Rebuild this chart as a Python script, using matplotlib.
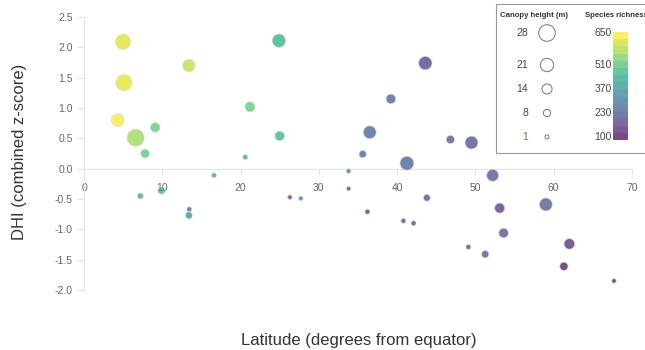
import numpy as np
import matplotlib
matplotlib.use("Agg")
import matplotlib.pyplot as plt
from matplotlib.colors import Normalize
from matplotlib.patches import Rectangle

plt.rcParams['font.family'] = ['Liberation Sans', 'DejaVu Sans']

# latitude (degrees from equator), DHI, canopy height (m), species richness
latitude = [5.0, 5.1, 4.3, 6.6, 9.1, 7.8, 13.4, 24.9, 21.2, 25.0,
            20.6, 16.6, 7.2, 9.9, 33.8, 33.8, 26.3, 27.7, 35.6, 36.5,
            13.45, 13.4, 36.2, 43.6, 39.2, 41.25, 46.8, 49.5, 43.8, 40.8,
            42.1, 52.2, 53.1, 59.0, 53.6, 49.1, 51.25, 62.0, 61.3, 67.7]
dhi = [2.09, 1.42, 0.80, 0.51, 0.68, 0.25, 1.70, 2.11, 1.02, 0.54,
       0.19, -0.11, -0.45, -0.36, -0.04, -0.33, -0.47, -0.49, 0.24, 0.60,
       -0.67, -0.77, -0.71, 1.74, 1.15, 0.09, 0.48, 0.43, -0.48, -0.86,
       -0.90, -0.11, -0.65, -0.59, -1.06, -1.29, -1.41, -1.24, -1.61, -1.85]
canopy = [25, 27, 20, 29, 13, 11, 19, 21, 14, 13,
          3, 3, 5, 8, 2, 2, 2, 2, 8, 20,
          3, 7, 3, 21, 13, 22, 10, 20, 7, 3,
          3, 18, 14, 20, 13, 3, 8, 15, 10, 2]
richness = [620, 625, 650, 560, 500, 490, 590, 440, 500, 450,
            420, 420, 420, 440, 270, 220, 170, 310, 250, 250,
            240, 360, 160, 180, 240, 250, 220, 210, 210, 190,
            180, 220, 170, 230, 210, 190, 220, 150, 120, 120]

legend_heights = [28, 21, 14, 8, 1]
cbar_labels = ['650', '510', '370', '230', '100']


def marker_area(h):
    r_px = 1.77 + 0.233 * np.asarray(h, dtype=float)
    return (2 * r_px * 0.72) ** 2


cmap = plt.get_cmap('viridis')
norm = Normalize(100, 650)
alpha = 0.72

fig = plt.figure(figsize=(6.45, 3.5), dpi=100)
ax = fig.add_axes([84 / 645, 1 - 290 / 350, 548 / 645, 273 / 350])
ax.scatter(latitude, dhi, s=marker_area(canopy), c=richness, cmap=cmap, norm=norm,
           alpha=alpha, edgecolors='#d8d8d8', linewidths=0.6, clip_on=False, zorder=3)

ax.set_xlim(0, 70)
ax.set_ylim(-2.0, 2.5)
ax.set_xticks(np.arange(0, 71, 10))
ax.set_yticks(np.arange(-2.0, 2.51, 0.5))
ax.set_yticklabels(['%.1f' % v for v in np.arange(-2.0, 2.51, 0.5)])
for s in ['top', 'right']:
    ax.spines[s].set_visible(False)
ax.spines['left'].set_color('#e3e3e3')
ax.spines['bottom'].set_position(('data', 0))
ax.spines['bottom'].set_color('#e3e3e3')
ax.spines['bottom'].set_bounds(-0.8, 70)
ax.tick_params(axis='y', colors='#e3e3e3', labelcolor='#666666', labelsize=7.5,
               length=5, pad=3)
ax.tick_params(axis='x', colors='#e3e3e3', labelcolor='#666666', labelsize=7.5,
               length=4, pad=6)
ax.set_facecolor('none')

fig.text(20 / 645, 1 - 152 / 350, 'DHI (combined z-score)', rotation=90,
         ha='center', va='center', fontsize=12, color='#333333')
fig.text(359 / 645, 1 - 340 / 350, 'Latitude (degrees from equator)',
         ha='center', va='center', fontsize=12, color='#333333')

# legend panel, in pixel-like coordinates
lg = fig.add_axes([495 / 645, 1 - 153 / 350, 165 / 645, 150 / 350])
lg.set_xlim(495, 660)
lg.set_ylim(153, 3)
lg.axis('off')
lg.add_patch(Rectangle((495.5, 3.5), 200, 149, facecolor='white',
                       edgecolor='#999999', lw=0.8, clip_on=False, zorder=0))
lg.text(500, 15, 'Canopy height (m)', fontsize=5.6, fontweight='bold',
        color='#333333', va='center')
lg.text(585, 15, 'Species richness', fontsize=5.6, fontweight='bold',
        color='#333333', va='center', clip_on=False)

row_y = [33, 65, 89, 113, 137]
lg.scatter([547] * 5, row_y, s=marker_area(legend_heights), facecolors='none',
           edgecolors='#777777', linewidths=0.7, clip_on=False, zorder=3)
for h, y in zip(legend_heights, row_y):
    lg.text(528, y, str(h), ha='right', va='center', fontsize=7.5,
            color='#806850' if h == 1 else '#444444')

grad = np.linspace(650, 100, 15).reshape(-1, 1)
lg.imshow(grad, cmap=cmap, norm=norm, alpha=alpha, aspect='auto',
          extent=(613, 628, 140, 32), interpolation='nearest', zorder=2)
for lab, y in zip(cbar_labels, row_y):
    lg.text(612, y, lab, ha='right', va='center', fontsize=7.5, color='#444444')
lg.set_xlim(495, 660)
lg.set_ylim(153, 3)

fig.savefig('out.png', dpi=100)
